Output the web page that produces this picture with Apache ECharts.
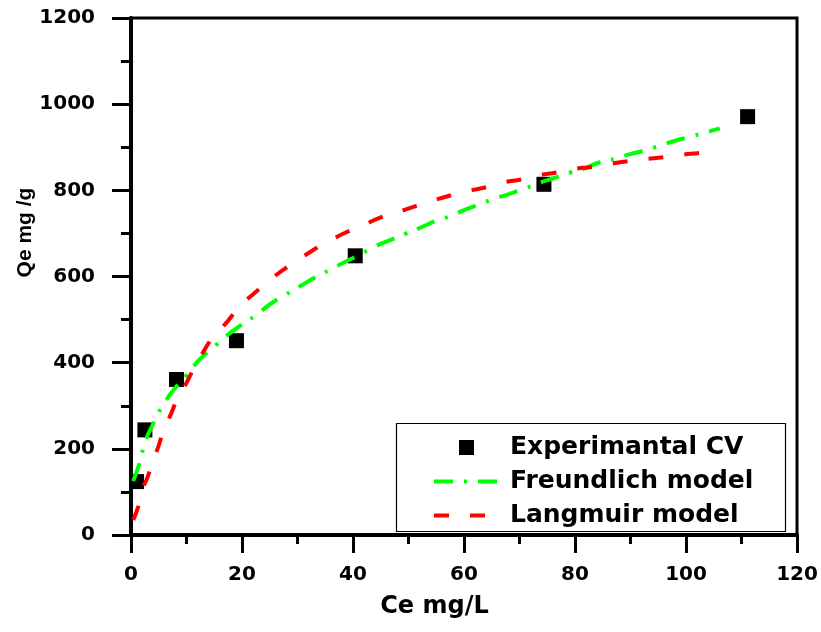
<!DOCTYPE html>
<html>
<head>
<meta charset="utf-8">
<script src="https://cdn.jsdelivr.net/npm/echarts@6/dist/echarts.min.js"></script>
<style>html,body{margin:0;padding:0;background:#fff;}#c{width:821px;height:632px;}</style>
</head>
<body>
<div id="c"></div>
<script>
// Experimental points
const ceExp = [1.0, 2.5, 8.2, 19.0, 40.4, 74.4, 111.1];
const qeExp = [124, 244, 361, 451, 648, 814, 971];

// Freundlich model curve
const ceF = [0.4, 1.6, 2.5, 3.8, 4.8, 6.1, 8.2, 9.9, 12.4, 14.5, 16.9, 19.5, 22.6, 25.0, 27.6, 30.8, 33.2, 35.7, 38.9, 41.3, 43.7, 47.0, 49.4, 51.9, 55.1, 57.5, 60.0, 63.2, 65.6, 68.2, 71.3, 73.7, 76.1, 79.1, 81.8, 84.2, 87.5, 89.9, 92.4, 95.6, 98.0, 100.6, 103.7, 106.1];
const qeF = [125, 170, 215, 253, 280, 309, 345, 369, 408, 431, 459, 484, 511, 535, 556, 580, 598, 615, 636, 651, 668, 686, 699, 712, 730, 740, 754, 770, 781, 792, 806, 818, 828, 841, 851, 864, 874, 884, 892, 905, 915, 924, 935, 944];

// Langmuir model curve
const ceL = [0.4, 1.3, 2.0, 3.0, 4.0, 4.9, 6.0, 7.0, 8.5, 9.7, 11.5, 12.7, 14.8, 16.8, 19.6, 22.0, 25.8, 28.5, 32.3, 34.8, 38.7, 41.3, 45.0, 47.7, 51.4, 54.1, 57.8, 60.5, 64.2, 66.9, 70.6, 73.2, 77.0, 79.6, 83.4, 86.1, 89.8, 92.4, 96.2, 98.8, 102.6, 105.2];
const qeL = [35, 66, 104, 135, 174, 204, 248, 275, 320, 346, 391, 418, 460, 487, 530, 559, 600, 625, 657, 676, 702, 716, 737, 748, 764, 775, 789, 798, 808, 818, 826, 834, 842, 849, 855, 861, 868, 872, 877, 882, 887, 891];

const seriesNames = ['Experimantal CV', 'Freundlich model', 'Langmuir model'];
const xTitle = 'Ce mg/L';
const yTitle = 'Qe mg /g';

const zip = (a, b) => a.map((v, i) => [v, b[i]]);
const FONT = 'DejaVu Sans';
const plain = v => String(v);
const noMarker = {color: 'rgba(0,0,0,0)', borderColor: 'rgba(0,0,0,0)', borderWidth: 0};

const chart = echarts.init(document.getElementById('c'), null, {renderer: 'canvas'});
chart.setOption({
  animation: false,
  backgroundColor: '#fff',
  grid: {left: 131, right: 24, top: 18, bottom: 97, containLabel: false, outerBoundsMode: 'none',
         show: true, borderColor: '#000', borderWidth: 3, backgroundColor: 'transparent'},
  xAxis: {
    type: 'value', min: 0, max: 120, interval: 20,
    name: xTitle, nameLocation: 'middle', nameGap: 60, nameMoveOverlap: false,
    nameTextStyle: {fontFamily: FONT, fontWeight: 'bold', fontSize: 24, color: '#000', padding: [0, 59, 0, 0]},
    axisLine: {show: true, lineStyle: {color: '#000', width: 4}},
    axisTick: {show: true, length: 18, lineStyle: {color: '#000', width: 3}},
    minorTick: {show: true, splitNumber: 2, length: 9, lineStyle: {color: '#000', width: 3}},
    splitLine: {show: false},
    axisLabel: {margin: 30, formatter: plain, fontFamily: FONT, fontWeight: 'bold', fontSize: 20, color: '#000'}
  },
  yAxis: {
    type: 'value', min: 0, max: 1200, interval: 200,
    name: yTitle, nameLocation: 'middle', nameGap: 95, nameMoveOverlap: false,
    nameTextStyle: {fontFamily: 'Liberation Sans', fontWeight: 'bold', fontSize: 21, color: '#000', padding: [0, 0, 0, 88]},
    axisLine: {show: true, lineStyle: {color: '#000', width: 4}},
    axisTick: {show: true, length: 19, lineStyle: {color: '#000', width: 3}},
    minorTick: {show: true, splitNumber: 2, length: 10, lineStyle: {color: '#000', width: 3}},
    splitLine: {show: false},
    axisLabel: {margin: 36, formatter: plain, fontFamily: FONT, fontWeight: 'bold', fontSize: 20, color: '#000'}
  },
  legend: {
    orient: 'vertical', left: 432, top: 435, padding: 0,
    itemWidth: 65, itemHeight: 15, itemGap: 9,
    lineStyle: {width: 4},
    textStyle: {fontFamily: FONT, fontWeight: 'bold', fontSize: 25, color: '#000', lineHeight: 25, padding: [0, 0, 0, 6]},
    data: [
      {name: seriesNames[0], icon: 'path://M0,0H10V10H0Z', itemStyle: {color: '#000', opacity: 1}},
      {name: seriesNames[1], itemStyle: noMarker},
      {name: seriesNames[2], itemStyle: noMarker}
    ]
  },
  graphic: [{
    type: 'rect', silent: true, z: 10,
    shape: {x: 396.5, y: 423.5, width: 389, height: 108},
    style: {fill: 'none', stroke: '#000', lineWidth: 1.2}
  }],
  series: [
    {
      name: seriesNames[0], type: 'scatter', symbol: 'rect', symbolSize: 15,
      itemStyle: {color: '#000', opacity: 1}, data: zip(ceExp, qeExp), z: 2
    },
    {
      name: seriesNames[1], type: 'line', symbol: 'none', smooth: true, z: 3,
      itemStyle: {color: '#00ff00'},
      lineStyle: {color: '#00ff00', width: 4, type: [19, 11, 3, 11]},
      data: zip(ceF, qeF)
    },
    {
      name: seriesNames[2], type: 'line', symbol: 'none', smooth: true, z: 4,
      itemStyle: {color: '#ff0000'},
      lineStyle: {color: '#ff0000', width: 4, type: [15, 21]},
      data: zip(ceL, qeL)
    }
  ]
});
</script>
</body>
</html>
